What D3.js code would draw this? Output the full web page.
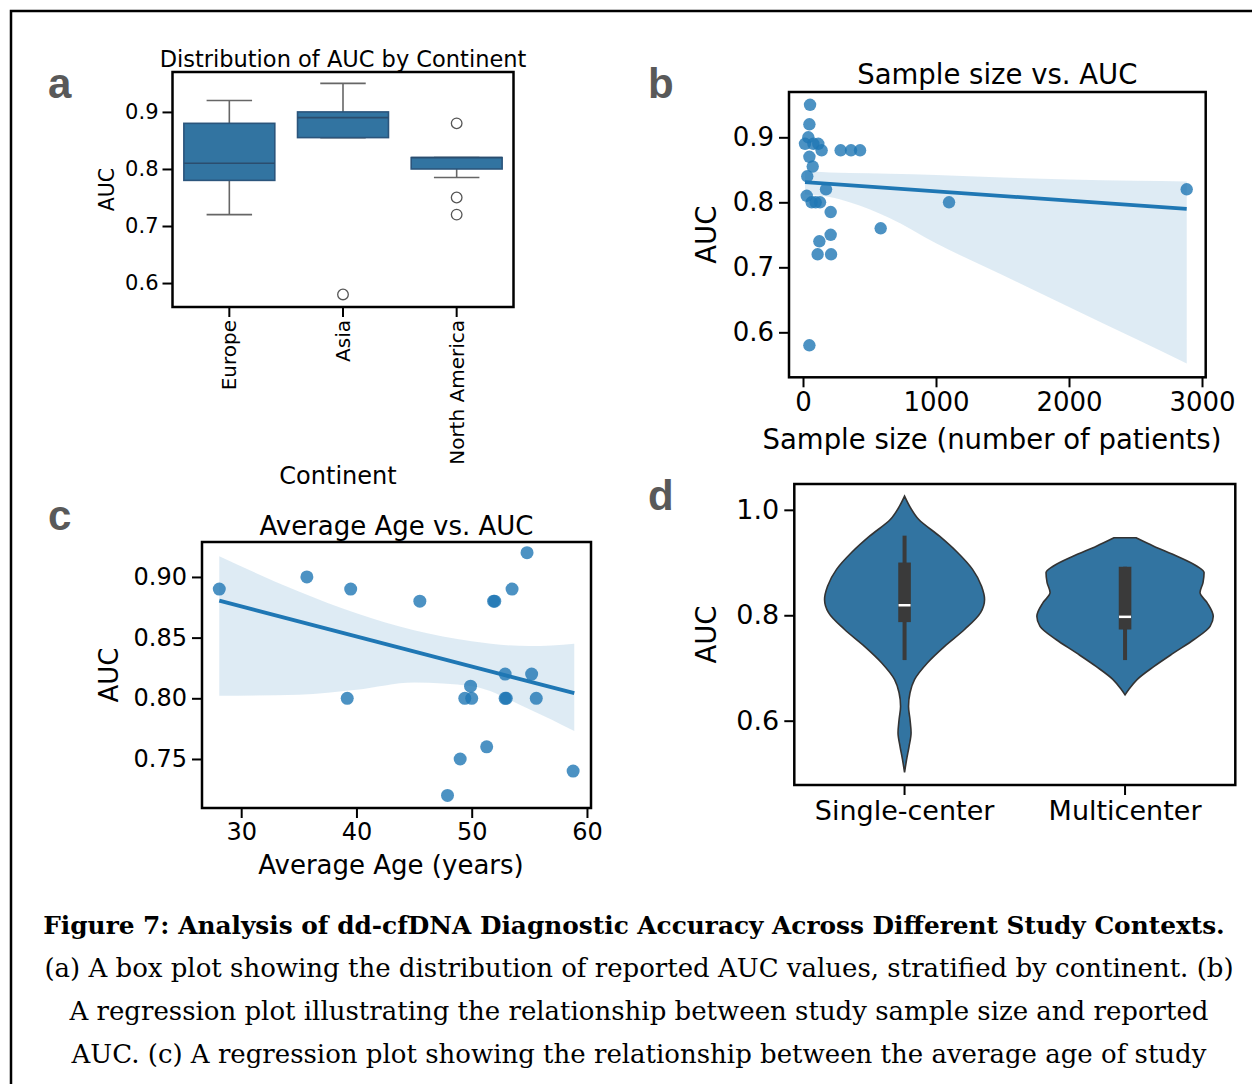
<!DOCTYPE html>
<html>
<head>
<meta charset="utf-8">
<script src="https://cdn.jsdelivr.net/npm/d3@7"></script>
<style>
  html, body { margin: 0; padding: 0; background: #fff; }
  svg { display: block; }
</style>
</head>
<body>
<svg id="fig" width="1252" height="1084"></svg>
<script>
// ---------- (a) AUC by continent: box plot summary statistics ----------
const continents = ["Europe", "Asia", "North America"];
const boxWhiskerLow = [0.72, 0.855, 0.785];
const boxQ1 = [0.78, 0.855, 0.80];
const boxMedian = [0.81, 0.89, 0.82];
const boxQ3 = [0.88, 0.90, 0.82];
const boxWhiskerHigh = [0.92, 0.95, 0.82];
const boxOutliers = [[], [0.58], [0.88, 0.75, 0.72]];
const aucTicksA = [0.6, 0.7, 0.8, 0.9];

// ---------- (b) sample size vs. AUC ----------
const sampleSize = [53, 48, 40, 15, 78, 115, 140, 48, 283, 361, 429, 73, 32, 173, 28, 65, 128, 95,
                    208, 1098, 584, 208, 123, 110, 211, 48, 2885];
const sampleAUC  = [0.95, 0.92, 0.90, 0.89, 0.89, 0.89, 0.88, 0.87, 0.88, 0.88, 0.88, 0.855, 0.84, 0.82, 0.81, 0.80, 0.80, 0.80,
                    0.785, 0.80, 0.76, 0.75, 0.74, 0.72, 0.72, 0.58, 0.82];
const sampleFitX = [15, 2885];
const sampleFitY = [0.831, 0.790];
const sampleBandX    = [15, 200, 350, 650, 1000, 1500, 2000, 2500, 2885];
const sampleBandLow  = [0.812, 0.808, 0.800, 0.776, 0.737, 0.688, 0.639, 0.590, 0.552];
const sampleBandHigh = [0.848, 0.846, 0.845, 0.844, 0.842, 0.838, 0.835, 0.833, 0.832];
const sampleTicksX = [0, 1000, 2000, 3000];
const aucTicksB = [0.6, 0.7, 0.8, 0.9];

// ---------- (c) average age vs. AUC ----------
const avgAge = [28.1, 35.7, 39.5, 39.2, 45.5, 51.9, 52.0, 53.5, 54.8, 52.9, 55.2, 49.9, 49.4, 50.0, 52.9, 53.0, 55.6, 51.3, 49.0, 47.9, 58.8];
const ageAUC = [0.89, 0.90, 0.89, 0.80, 0.88, 0.88, 0.88, 0.89, 0.92, 0.82, 0.82, 0.81, 0.80, 0.80, 0.80, 0.80, 0.80, 0.76, 0.75, 0.72, 0.74];
const ageFitX = [28.1, 58.9];
const ageFitY = [0.8805, 0.8042];
const ageBandX    = [28.1, 35, 40, 45, 50, 55, 58.9];
const ageBandLow  = [0.802, 0.803, 0.807, 0.813, 0.810, 0.791, 0.773];
const ageBandHigh = [0.917, 0.888, 0.870, 0.856, 0.847, 0.843, 0.845];
const ageTicksX = [30, 40, 50, 60];
const aucTicksC = [0.75, 0.80, 0.85, 0.90];

// ---------- (d) study design violins ----------
const designs = ["Single-center", "Multicenter"];
const violinLevels = [
  [1.026, 1.007, 0.982, 0.950, 0.919, 0.887, 0.855, 0.830, 0.805, 0.773, 0.741, 0.710, 0.678, 0.653, 0.627, 0.602, 0.577, 0.551, 0.526, 0.502],
  [0.947, 0.931, 0.912, 0.893, 0.881, 0.862, 0.843, 0.824, 0.798, 0.779, 0.754, 0.729, 0.703, 0.678, 0.659, 0.649]
];
const violinDensity = [
  [0, 0.057, 0.159, 0.397, 0.601, 0.771, 0.873, 0.907, 0.862, 0.680, 0.454, 0.261, 0.113, 0.062, 0.045, 0.062, 0.074, 0.051, 0.023, 0],
  [0.125, 0.325, 0.590, 0.816, 0.896, 0.884, 0.850, 0.930, 1.0, 0.964, 0.782, 0.556, 0.329, 0.136, 0.042, 0]
];
const violinWhiskerLow = [0.715, 0.715];
const violinQ1 = [0.787, 0.773];
const violinMedian = [0.819, 0.797];
const violinQ3 = [0.90, 0.892];
const violinWhiskerHigh = [0.951, 0.892];
const aucTicksD = [0.6, 0.8, 1.0];

// ---------- caption ----------
const captionTitle = "Figure 7: Analysis of dd-cfDNA Diagnostic Accuracy Across Different Study Contexts.";
const captionLines = [
  "(a) A box plot showing the distribution of reported AUC values, stratified by continent. (b)",
  "A regression plot illustrating the relationship between study sample size and reported",
  "AUC. (c) A regression plot showing the relationship between the average age of study"
];

// ================= drawing =================
const svg = d3.select("#fig");
const SANS = "'DejaVu Sans', sans-serif";
const SERIF = "'DejaVu Serif', serif";
const BLUE = "#1f77b4";
const VIOLIN_BLUE = "#3274a1";

svg.append("rect").attr("width", 1252).attr("height", 1084).attr("fill", "#fff");
// outer figure border
svg.append("rect").attr("x", 11).attr("y", 11).attr("width", 1270).attr("height", 1100)
  .attr("fill", "none").attr("stroke", "#000").attr("stroke-width", 2.5);

function styleAxis(g, fontSize) {
  g.select(".domain").remove();
  g.selectAll(".tick line").attr("stroke", "#000").attr("stroke-width", 2);
  g.selectAll(".tick text").attr("fill", "#000").style("font-family", SANS).style("font-size", fontSize + "px");
}

function frame(g, box) {
  g.append("rect").attr("x", box.left).attr("y", box.top)
    .attr("width", box.right - box.left).attr("height", box.bottom - box.top)
    .attr("fill", "none").attr("stroke", "#000").attr("stroke-width", 2.5);
}

function panelLetter(txt, x, y) {
  svg.append("text").attr("x", x).attr("y", y).text(txt)
    .style("font-family", "'Liberation Sans', Arial, sans-serif").style("font-weight", "bold")
    .style("font-size", "42px").attr("fill", "#595959");
}

function label(g, txt, x, y, size, rotate) {
  const t = g.append("text").text(txt).attr("text-anchor", "middle")
    .style("font-family", SANS).style("font-size", size + "px").attr("fill", "#000");
  if (rotate) t.attr("transform", `translate(${x},${y}) rotate(-90)`);
  else t.attr("x", x).attr("y", y);
  return t;
}

// ---------- panel a ----------
{
  const box = { left: 172.5, right: 513.5, top: 72, bottom: 307 };
  const g = svg.append("g");
  const x = d3.scaleBand().domain(continents).range([box.left, box.right]).padding(0);
  const y = d3.scaleLinear().domain([0.558, 0.970]).range([box.bottom, box.top]);
  const bw = x.bandwidth() * 0.8;
  const cx = d => x(d) + x.bandwidth() / 2;

  continents.forEach((c, i) => {
    const xc = cx(c);
    // whiskers and caps
    const wg = g.append("g").attr("stroke", "#666").attr("stroke-width", 1.6);
    wg.append("line").attr("x1", xc).attr("x2", xc).attr("y1", y(boxQ3[i])).attr("y2", y(boxWhiskerHigh[i]));
    wg.append("line").attr("x1", xc).attr("x2", xc).attr("y1", y(boxQ1[i])).attr("y2", y(boxWhiskerLow[i]));
    wg.append("line").attr("x1", xc - bw / 4).attr("x2", xc + bw / 4).attr("y1", y(boxWhiskerHigh[i])).attr("y2", y(boxWhiskerHigh[i]));
    wg.append("line").attr("x1", xc - bw / 4).attr("x2", xc + bw / 4).attr("y1", y(boxWhiskerLow[i])).attr("y2", y(boxWhiskerLow[i]));
    // box
    g.append("rect").attr("x", xc - bw / 2).attr("width", bw)
      .attr("y", y(boxQ3[i])).attr("height", y(boxQ1[i]) - y(boxQ3[i]))
      .attr("fill", VIOLIN_BLUE).attr("stroke", "#2b557c").attr("stroke-width", 1.6);
    g.append("line").attr("x1", xc - bw / 2).attr("x2", xc + bw / 2)
      .attr("y1", y(boxMedian[i])).attr("y2", y(boxMedian[i]))
      .attr("stroke", "#2b4d6e").attr("stroke-width", 1.6);
    // fliers
    g.selectAll(null).data(boxOutliers[i]).join("circle")
      .attr("cx", xc).attr("cy", v => y(v)).attr("r", 5.3)
      .attr("fill", "none").attr("stroke", "#555").attr("stroke-width", 1.3);
  });

  const ya = g.append("g").attr("transform", `translate(${box.left},0)`)
    .call(d3.axisLeft(y).tickValues(aucTicksA).tickFormat(d3.format(".1f")).tickSize(10).tickPadding(4));
  styleAxis(ya, 21);
  const xa = g.append("g").attr("transform", `translate(0,${box.bottom})`)
    .call(d3.axisBottom(x).tickSize(10).tickPadding(4));
  styleAxis(xa, 20);
  xa.selectAll(".tick text").attr("transform", "rotate(-90)").attr("x", -13).attr("y", 0)
    .attr("dy", "0.35em").attr("text-anchor", "end");
  frame(g, box);
  label(g, "Distribution of AUC by Continent", (box.left + box.right) / 2, 67, 22.5);
  label(g, "AUC", 114, (box.top + box.bottom) / 2, 20.5, true);
  label(g, "Continent", 338, 484, 24);
  panelLetter("a", 48, 98);
}

// ---------- panel b ----------
{
  const box = { left: 789, right: 1205.7, top: 92, bottom: 377.3 };
  const g = svg.append("g");
  const x = d3.scaleLinear().domain([-105.3, 3027.8]).range([box.left, box.right]);
  const y = d3.scaleLinear().domain([0.5308, 0.9697]).range([box.bottom, box.top]);

  const bandData = sampleBandX.map((v, i) => ({ x: v, lo: sampleBandLow[i], hi: sampleBandHigh[i] }));
  g.append("path").datum(bandData)
    .attr("d", d3.area().x(d => x(d.x)).y0(d => y(d.lo)).y1(d => y(d.hi)).curve(d3.curveMonotoneX))
    .attr("fill", BLUE).attr("fill-opacity", 0.15);
  g.selectAll(null).data(sampleSize.map((v, i) => [v, sampleAUC[i]])).join("circle")
    .attr("cx", d => x(d[0])).attr("cy", d => y(d[1])).attr("r", 6.2)
    .attr("fill", BLUE).attr("fill-opacity", 0.8);
  g.append("path").datum(sampleFitX.map((v, i) => [v, sampleFitY[i]]))
    .attr("d", d3.line().x(d => x(d[0])).y(d => y(d[1])))
    .attr("stroke", BLUE).attr("stroke-width", 3.8).attr("fill", "none");

  const ya = g.append("g").attr("transform", `translate(${box.left},0)`)
    .call(d3.axisLeft(y).tickValues(aucTicksB).tickFormat(d3.format(".1f")).tickSize(10).tickPadding(5));
  styleAxis(ya, 26);
  const xa = g.append("g").attr("transform", `translate(0,${box.bottom})`)
    .call(d3.axisBottom(x).tickValues(sampleTicksX).tickFormat(d3.format("d")).tickSize(10).tickPadding(5));
  styleAxis(xa, 26);
  frame(g, box);
  label(g, "Sample size vs. AUC", (box.left + box.right) / 2, 84, 27.5);
  label(g, "AUC", 716, (box.top + box.bottom) / 2, 27.5, true);
  label(g, "Sample size (number of patients)", 992, 449, 27.5);
  panelLetter("b", 648, 98);
}

// ---------- panel c ----------
{
  const box = { left: 202, right: 591, top: 542, bottom: 808 };
  const g = svg.append("g");
  const x = d3.scaleLinear().domain([26.6, 60.35]).range([box.left, box.right]);
  const y = d3.scaleLinear().domain([0.7096, 0.9288]).range([box.bottom, box.top]);

  const bandData = ageBandX.map((v, i) => ({ x: v, lo: ageBandLow[i], hi: ageBandHigh[i] }));
  g.append("path").datum(bandData)
    .attr("d", d3.area().x(d => x(d.x)).y0(d => y(d.lo)).y1(d => y(d.hi)).curve(d3.curveMonotoneX))
    .attr("fill", BLUE).attr("fill-opacity", 0.15);
  g.selectAll(null).data(avgAge.map((v, i) => [v, ageAUC[i]])).join("circle")
    .attr("cx", d => x(d[0])).attr("cy", d => y(d[1])).attr("r", 6.5)
    .attr("fill", BLUE).attr("fill-opacity", 0.8);
  g.append("path").datum(ageFitX.map((v, i) => [v, ageFitY[i]]))
    .attr("d", d3.line().x(d => x(d[0])).y(d => y(d[1])))
    .attr("stroke", BLUE).attr("stroke-width", 3.8).attr("fill", "none");

  const ya = g.append("g").attr("transform", `translate(${box.left},0)`)
    .call(d3.axisLeft(y).tickValues(aucTicksC).tickFormat(d3.format(".2f")).tickSize(10).tickPadding(5));
  styleAxis(ya, 24);
  const xa = g.append("g").attr("transform", `translate(0,${box.bottom})`)
    .call(d3.axisBottom(x).tickValues(ageTicksX).tickFormat(d3.format("d")).tickSize(10).tickPadding(5));
  styleAxis(xa, 24);
  frame(g, box);
  label(g, "Average Age vs. AUC", (box.left + box.right) / 2, 535, 26);
  label(g, "AUC", 118, (box.top + box.bottom) / 2, 26, true);
  label(g, "Average Age (years)", 391, 874, 26);
  panelLetter("c", 48, 530);
}

// ---------- panel d ----------
{
  const box = { left: 794.3, right: 1235.3, top: 484, bottom: 785 };
  const g = svg.append("g");
  const x = d3.scaleBand().domain(designs).range([box.left, box.right]).padding(0);
  const y = d3.scaleLinear().domain([0.478, 1.049]).range([box.bottom, box.top]);
  const w = d3.scaleLinear().domain([0, 1]).range([0, x.bandwidth() * 0.4]);
  const cx = d => x(d) + x.bandwidth() / 2;

  designs.forEach((dsg, i) => {
    const xc = cx(dsg);
    const pts = violinLevels[i].map((lv, j) => ({ v: lv, d: violinDensity[i][j] }));
    g.append("path").datum(pts)
      .attr("d", d3.area().y(p => y(p.v)).x0(p => xc - w(p.d)).x1(p => xc + w(p.d)).curve(d3.curveMonotoneY))
      .attr("fill", VIOLIN_BLUE).attr("stroke", "#333").attr("stroke-width", 1.6);
    g.append("line").attr("x1", xc).attr("x2", xc)
      .attr("y1", y(violinWhiskerLow[i])).attr("y2", y(violinWhiskerHigh[i]))
      .attr("stroke", "#3a3a3a").attr("stroke-width", 4);
    g.append("rect").attr("x", xc - 6.3).attr("width", 12.6)
      .attr("y", y(violinQ3[i])).attr("height", y(violinQ1[i]) - y(violinQ3[i]))
      .attr("fill", "#3a3a3a");
    g.append("line").attr("x1", xc - 6).attr("x2", xc + 6)
      .attr("y1", y(violinMedian[i])).attr("y2", y(violinMedian[i]))
      .attr("stroke", "#fff").attr("stroke-width", 2.5);
  });

  const ya = g.append("g").attr("transform", `translate(${box.left},0)`)
    .call(d3.axisLeft(y).tickValues(aucTicksD).tickFormat(d3.format(".1f")).tickSize(10).tickPadding(5));
  styleAxis(ya, 27);
  const xa = g.append("g").attr("transform", `translate(0,${box.bottom})`)
    .call(d3.axisBottom(x).tickSize(10).tickPadding(6));
  styleAxis(xa, 27);
  frame(g, box);
  label(g, "AUC", 716, (box.top + box.bottom) / 2, 27.5, true);
  panelLetter("d", 648, 510);
}

// ---------- caption ----------
{
  const g = svg.append("g");
  g.append("text").attr("x", 634).attr("y", 934).attr("text-anchor", "middle")
    .style("font-family", SERIF).style("font-weight", "bold").style("font-size", "24.8px")
    .attr("fill", "#000").text(captionTitle);
  captionLines.forEach((ln, i) => {
    g.append("text").attr("x", 639).attr("y", 977 + i * 43).attr("text-anchor", "middle")
      .style("font-family", SERIF).style("font-size", "26px").attr("fill", "#000").text(ln);
  });
}
</script>
</body>
</html>
